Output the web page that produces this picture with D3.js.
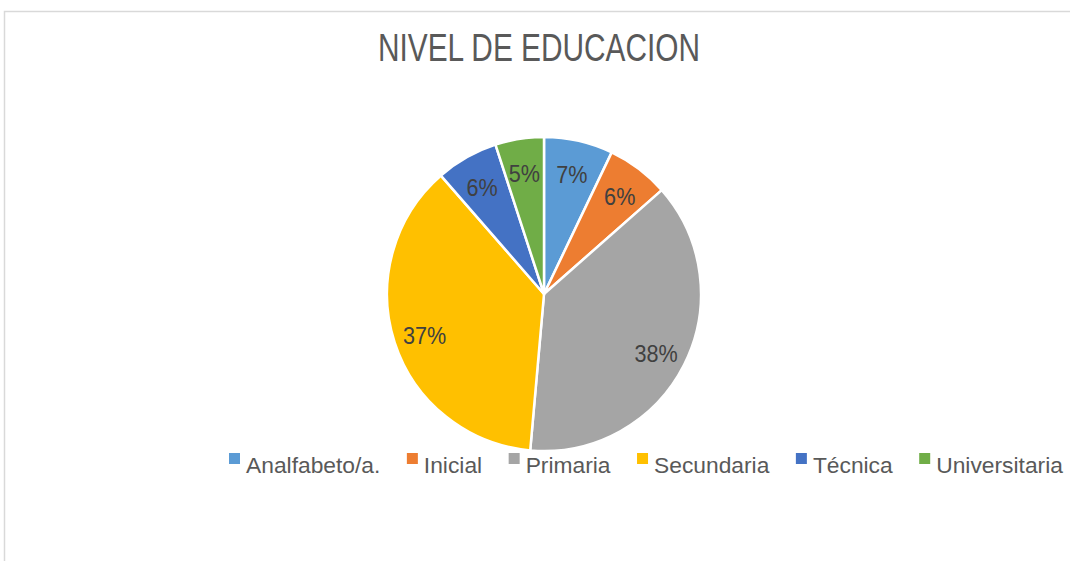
<!DOCTYPE html>
<html>
<head>
<meta charset="utf-8">
<script src="https://cdn.jsdelivr.net/npm/d3@7"></script>
<style>
  html, body { margin: 0; padding: 0; background: #fff; }
  svg { display: block; }
</style>
</head>
<body>
<svg id="chart" width="1070" height="561"></svg>
<script>
const title = "NIVEL DE EDUCACION";
const categories = ["Analfabeto/a.", "Inicial", "Primaria", "Secundaria", "Técnica", "Universitaria"];
const values = [7.1, 6.4, 37.9, 37.2, 6.4, 5.0];
const colors = ["#5B9BD5", "#ED7D31", "#A5A5A5", "#FFC000", "#4472C4", "#70AD47"];

const svg = d3.select("#chart");
const W = 1070, H = 561;

// chart frame
svg.append("rect")
  .attr("x", 4.5).attr("y", 11.5)
  .attr("width", W + 20).attr("height", H + 20)
  .attr("fill", "#fff").attr("stroke", "#d9d9d9").attr("stroke-width", 1.5);

// title
svg.append("text")
  .attr("x", 378).attr("y", 61)
  .attr("textLength", 322).attr("lengthAdjust", "spacingAndGlyphs")
  .attr("font-family", "Liberation Sans, Arial, sans-serif")
  .attr("font-size", 38)
  .attr("fill", "#595959")
  .text(title);

const cx = 544, cy = 294, R = 157;
const total = d3.sum(values);
const pie = d3.pie().sort(null).value(d => d)(values);
const arc = d3.arc().innerRadius(0).outerRadius(R);
const labelArc = d3.arc().innerRadius(R * 0.8).outerRadius(R * 0.8);

const g = svg.append("g").attr("transform", `translate(${cx},${cy})`);
g.selectAll("path").data(pie).enter().append("path")
  .attr("d", arc)
  .attr("fill", (d, i) => colors[i])
  .attr("stroke", "#fff").attr("stroke-width", 2.5).attr("stroke-linejoin", "round");

g.selectAll("text.lbl").data(pie).enter().append("text")
  .attr("class", "lbl")
  .attr("transform", d => {
    const [x, y] = labelArc.centroid(d);
    return `translate(${x},${y + 3}) scale(0.9,1)`;
  })
  .attr("text-anchor", "middle")
  .attr("dy", "0.36em")
  .attr("font-family", "Liberation Sans, Arial, sans-serif")
  .attr("font-size", 24)
  .attr("fill", "#404040")
  .text(d => Math.round(d.value / total * 100) + "%");

// legend
const legend = svg.append("g").attr("transform", "translate(229,0)");
let lx = 0;
categories.forEach((c, i) => {
  const item = legend.append("g").attr("transform", `translate(${lx},0)`);
  item.append("rect").attr("x", 0).attr("y", 453).attr("width", 11).attr("height", 11).attr("fill", colors[i]);
  const t = item.append("text")
    .attr("x", 17).attr("y", 473)
    .attr("font-family", "Liberation Sans, Arial, sans-serif")
    .attr("font-size", 22.8)
    .attr("fill", "#595959")
    .text(c);
  const w = t.node().getComputedTextLength();
  lx += 17 + w + 26.5;
});
</script>
</body>
</html>
